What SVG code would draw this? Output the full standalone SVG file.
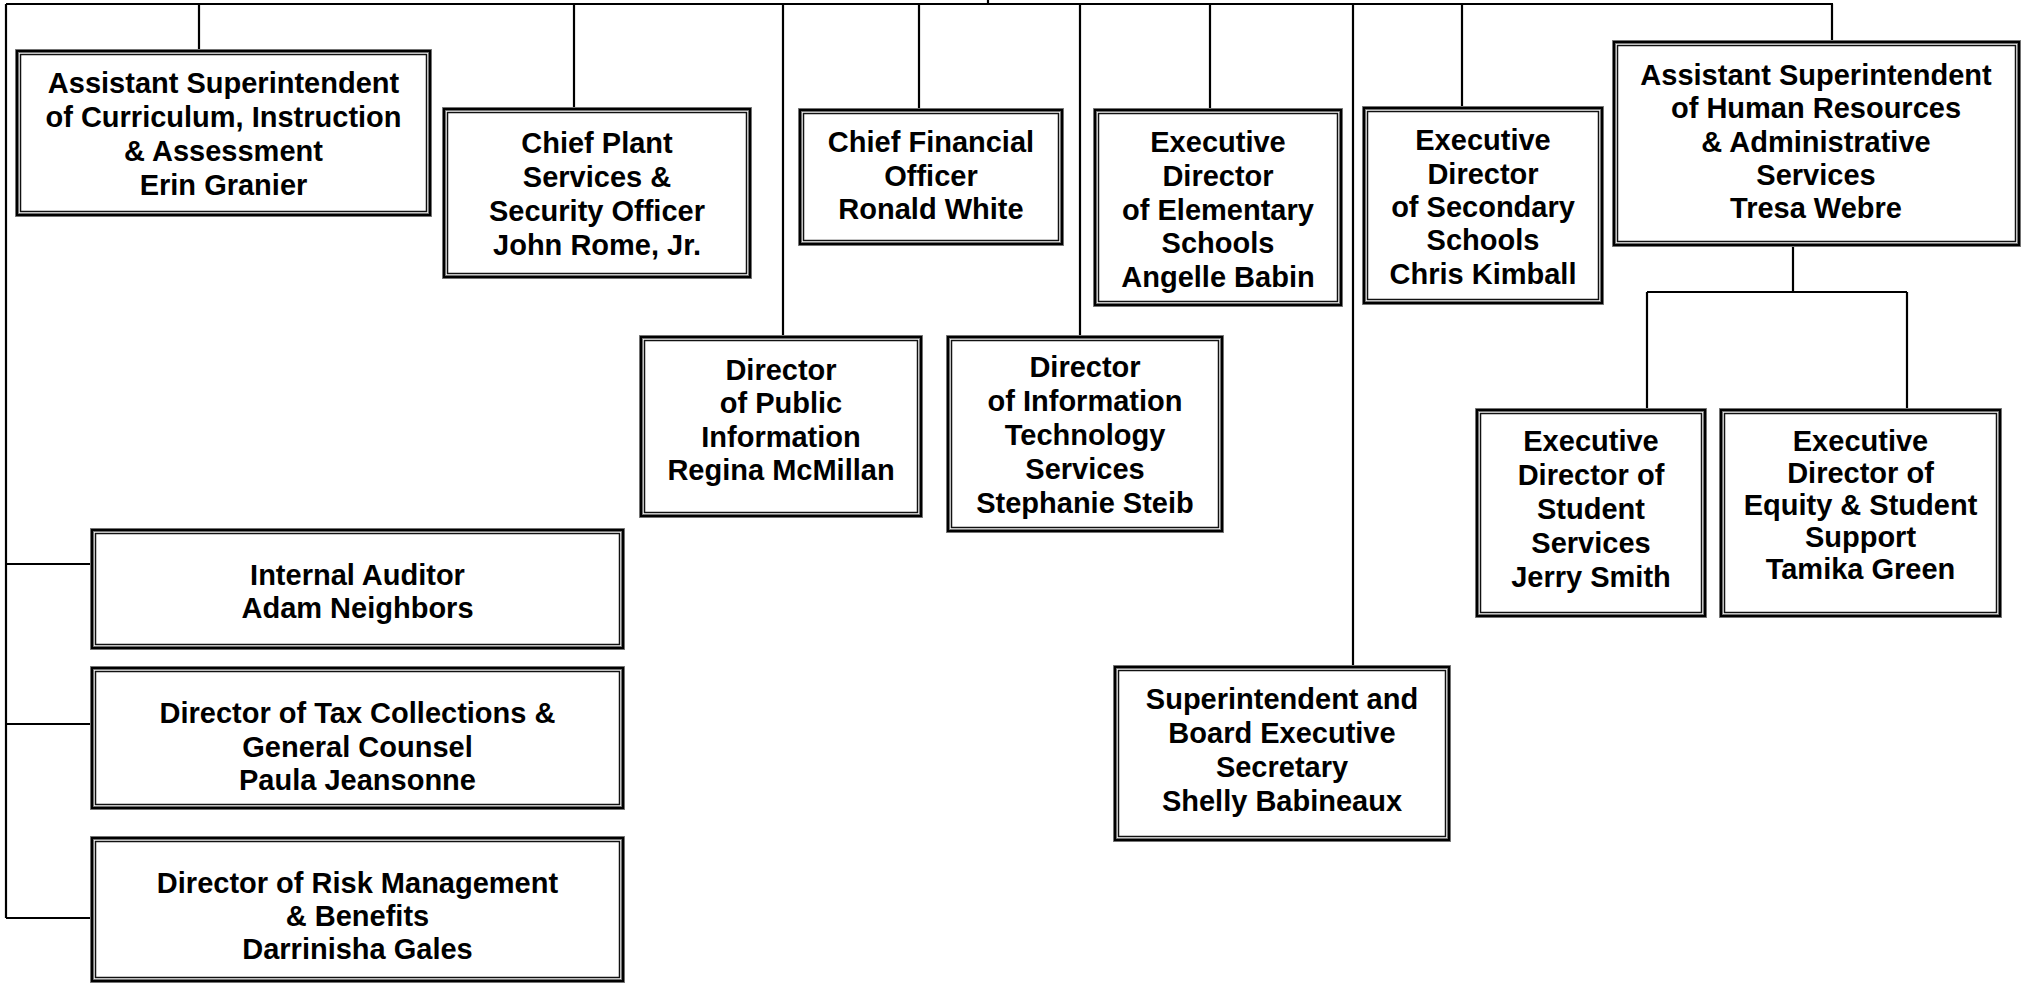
<svg xmlns="http://www.w3.org/2000/svg" width="2021" height="985" viewBox="0 0 2021 985">
<style>
.c{fill:none;stroke:#000;stroke-width:2.2}
.b1{fill:#fff;stroke:#808080;stroke-width:4}
.b2{fill:none;stroke:#000;stroke-width:2.2}
.b3{fill:none;stroke:#111;stroke-width:1.5}
.t{font-family:"Liberation Sans",Arial,sans-serif;font-weight:bold;font-size:29px;fill:#000;text-anchor:middle}
</style>
<rect width="2021" height="985" fill="#fff"/>
<g id="connectors">
<path class="c" d="M6 4H1833M988 0V4M6 4V918M199 4V49M574 4V107M783 4V335M919 4V108M1080 4V335M1210 4V108M1353 4V665M1462 4V106M1832 4V40"/>
<path class="c" d="M1793 247V292M1647 292H1907M1647 292V408M1907 292V408"/>
<path class="c" d="M6 564H90M6 724H90M6 918H90"/>
</g>
<g id="asst-supt-curriculum">
<rect class="b1" x="17" y="51" width="413" height="164"/><rect class="b2" x="17" y="51" width="413" height="164"/><rect class="b3" x="20.5" y="54.5" width="406" height="157"/>
<text class="t"><tspan x="223.5" y="93">Assistant Superintendent</tspan><tspan x="223.5" y="127">of Curriculum, Instruction</tspan><tspan x="223.5" y="161">&amp; Assessment</tspan><tspan x="223.5" y="195">Erin Granier</tspan></text>
</g>
<g id="chief-plant">
<rect class="b1" x="444" y="109" width="306" height="168"/><rect class="b2" x="444" y="109" width="306" height="168"/><rect class="b3" x="447.5" y="112.5" width="299" height="161"/>
<text class="t"><tspan x="597" y="153">Chief Plant</tspan><tspan x="597" y="187">Services &amp;</tspan><tspan x="597" y="221">Security Officer</tspan><tspan x="597" y="255">John Rome, Jr.</tspan></text>
</g>
<g id="cfo">
<rect class="b1" x="800" y="110" width="262" height="134"/><rect class="b2" x="800" y="110" width="262" height="134"/><rect class="b3" x="803.5" y="113.5" width="255" height="127"/>
<text class="t"><tspan x="931" y="152">Chief Financial</tspan><tspan x="931" y="185.5">Officer</tspan><tspan x="931" y="219">Ronald White</tspan></text>
</g>
<g id="exec-elementary">
<rect class="b1" x="1095" y="110" width="246" height="195"/><rect class="b2" x="1095" y="110" width="246" height="195"/><rect class="b3" x="1098.5" y="113.5" width="239" height="188"/>
<text class="t"><tspan x="1218" y="152">Executive</tspan><tspan x="1218" y="186">Director</tspan><tspan x="1218" y="220">of Elementary</tspan><tspan x="1218" y="253">Schools</tspan><tspan x="1218" y="287">Angelle Babin</tspan></text>
</g>
<g id="exec-secondary">
<rect class="b1" x="1364" y="108" width="238" height="195"/><rect class="b2" x="1364" y="108" width="238" height="195"/><rect class="b3" x="1367.5" y="111.5" width="231" height="188"/>
<text class="t"><tspan x="1483" y="150">Executive</tspan><tspan x="1483" y="184">Director</tspan><tspan x="1483" y="217">of Secondary</tspan><tspan x="1483" y="250">Schools</tspan><tspan x="1483" y="284">Chris Kimball</tspan></text>
</g>
<g id="asst-supt-hr">
<rect class="b1" x="1614" y="42" width="405" height="203"/><rect class="b2" x="1614" y="42" width="405" height="203"/><rect class="b3" x="1617.5" y="45.5" width="398" height="196"/>
<text class="t"><tspan x="1816" y="85">Assistant Superintendent</tspan><tspan x="1816" y="118">of Human Resources</tspan><tspan x="1816" y="152">&amp; Administrative</tspan><tspan x="1816" y="185">Services</tspan><tspan x="1816" y="218">Tresa Webre</tspan></text>
</g>
<g id="dir-public-info">
<rect class="b1" x="641" y="337" width="280" height="179"/><rect class="b2" x="641" y="337" width="280" height="179"/><rect class="b3" x="644.5" y="340.5" width="273" height="172"/>
<text class="t"><tspan x="781" y="380">Director</tspan><tspan x="781" y="413">of Public</tspan><tspan x="781" y="447">Information</tspan><tspan x="781" y="480">Regina McMillan</tspan></text>
</g>
<g id="dir-it">
<rect class="b1" x="948" y="337" width="274" height="194"/><rect class="b2" x="948" y="337" width="274" height="194"/><rect class="b3" x="951.5" y="340.5" width="267" height="187"/>
<text class="t"><tspan x="1085" y="377">Director</tspan><tspan x="1085" y="411">of Information</tspan><tspan x="1085" y="445">Technology</tspan><tspan x="1085" y="479">Services</tspan><tspan x="1085" y="513">Stephanie Steib</tspan></text>
</g>
<g id="internal-auditor">
<rect class="b1" x="92" y="530" width="531" height="118"/><rect class="b2" x="92" y="530" width="531" height="118"/><rect class="b3" x="95.5" y="533.5" width="524" height="111"/>
<text class="t"><tspan x="357.5" y="585">Internal Auditor</tspan><tspan x="357.5" y="618">Adam Neighbors</tspan></text>
</g>
<g id="dir-tax">
<rect class="b1" x="92" y="668" width="531" height="140"/><rect class="b2" x="92" y="668" width="531" height="140"/><rect class="b3" x="95.5" y="671.5" width="524" height="133"/>
<text class="t"><tspan x="357.5" y="723">Director of Tax Collections &amp;</tspan><tspan x="357.5" y="757">General Counsel</tspan><tspan x="357.5" y="790">Paula Jeansonne</tspan></text>
</g>
<g id="dir-risk">
<rect class="b1" x="92" y="838" width="531" height="143"/><rect class="b2" x="92" y="838" width="531" height="143"/><rect class="b3" x="95.5" y="841.5" width="524" height="136"/>
<text class="t"><tspan x="357.5" y="893">Director of Risk Management</tspan><tspan x="357.5" y="926">&amp; Benefits</tspan><tspan x="357.5" y="959">Darrinisha Gales</tspan></text>
</g>
<g id="exec-student-services">
<rect class="b1" x="1477" y="410" width="228" height="206"/><rect class="b2" x="1477" y="410" width="228" height="206"/><rect class="b3" x="1480.5" y="413.5" width="221" height="199"/>
<text class="t"><tspan x="1591" y="451">Executive</tspan><tspan x="1591" y="485">Director of</tspan><tspan x="1591" y="519">Student</tspan><tspan x="1591" y="553">Services</tspan><tspan x="1591" y="587">Jerry Smith</tspan></text>
</g>
<g id="exec-equity">
<rect class="b1" x="1721" y="410" width="279" height="206"/><rect class="b2" x="1721" y="410" width="279" height="206"/><rect class="b3" x="1724.5" y="413.5" width="272" height="199"/>
<text class="t"><tspan x="1860.5" y="451">Executive</tspan><tspan x="1860.5" y="483">Director of</tspan><tspan x="1860.5" y="515">Equity &amp; Student</tspan><tspan x="1860.5" y="547">Support</tspan><tspan x="1860.5" y="579">Tamika Green</tspan></text>
</g>
<g id="board-secretary">
<rect class="b1" x="1115" y="667" width="334" height="173"/><rect class="b2" x="1115" y="667" width="334" height="173"/><rect class="b3" x="1118.5" y="670.5" width="327" height="166"/>
<text class="t"><tspan x="1282" y="709">Superintendent and</tspan><tspan x="1282" y="743">Board Executive</tspan><tspan x="1282" y="777">Secretary</tspan><tspan x="1282" y="811">Shelly Babineaux</tspan></text>
</g>
</svg>
